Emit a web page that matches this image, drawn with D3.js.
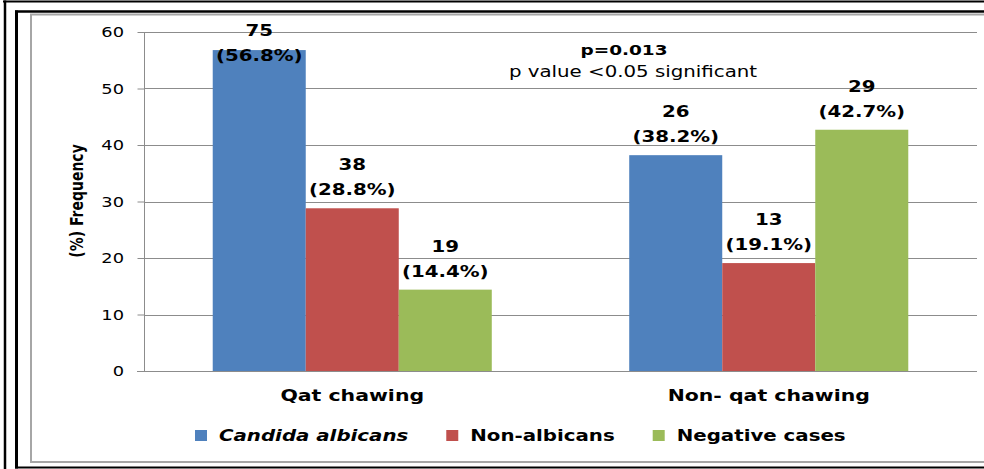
<!DOCTYPE html>
<html>
<head>
<meta charset="utf-8">
<script src="https://cdn.jsdelivr.net/npm/d3@7"></script>
<style>
  html, body { margin: 0; padding: 0; background: #fff; }
  svg { display: block; }
  text { font-family: "DejaVu Sans", sans-serif; fill: #000; }
</style>
</head>
<body>
<svg id="chart" width="984" height="469"></svg>
<script>
// ---- data ----
const categories = ["Qat chawing", "Non- qat chawing"];
const seriesNames = ["Candida albicans", "Non-albicans", "Negative cases"];
const seriesColors = ["#4F81BD", "#C0504D", "#9BBB59"];
const percentValues = [
  [56.8, 28.8, 14.4],   // Qat chawing
  [38.2, 19.1, 42.7]    // Non- qat chawing
];
const countValues = [
  [75, 38, 19],
  [26, 13, 29]
];
const yTicks = [0, 10, 20, 30, 40, 50, 60];
const yTitle = "(%) Frequency";
const noteLines = ["p=0.013", "p value <0.05 significant"];

// ---- layout ----
const W = 984, H = 469;
const SX = 1.32; // horizontal text stretch of the original picture
const plot = { left: 144, right: 977, top: 32, bottom: 371 };
const svg = d3.select("#chart");

// frames
const frame = svg.append("g");
frame.append("line").attr("x1", 3).attr("x2", W).attr("y1", 1.5).attr("y2", 1.5).attr("stroke", "#000").attr("stroke-width", 2);
frame.append("line").attr("x1", 5).attr("x2", 5).attr("y1", 0.5).attr("y2", H).attr("stroke", "#000").attr("stroke-width", 2.5);
frame.append("line").attr("x1", 15).attr("x2", W).attr("y1", 11.5).attr("y2", 11.5).attr("stroke", "#000").attr("stroke-width", 2.5);
frame.append("line").attr("x1", 16.5).attr("x2", 16.5).attr("y1", 10.5).attr("y2", 468.5).attr("stroke", "#000").attr("stroke-width", 3);
frame.append("line").attr("x1", 15).attr("x2", W).attr("y1", 467.5).attr("y2", 467.5).attr("stroke", "#000").attr("stroke-width", 2);
frame.append("path").attr("d", `M${W + 5},14.5 H31 V462 H${W + 5}`).attr("fill", "none").attr("stroke", "#a6a6a6").attr("stroke-width", 2);

// scales
const x0 = d3.scaleBand().domain(categories).range([plot.left, plot.right]).paddingInner(0.33).paddingOuter(0.165);
const x1 = d3.scaleBand().domain(seriesNames).range([0, x0.bandwidth()]);
const y = d3.scaleLinear().domain([0, 60]).range([plot.bottom, plot.top]);

// gridlines
svg.append("g").selectAll("line").data(yTicks.filter(d => d > 0)).join("line")
  .attr("x1", plot.left).attr("x2", plot.right)
  .attr("y1", d => Math.round(y(d)) + 0.5).attr("y2", d => Math.round(y(d)) + 0.5)
  .attr("stroke", "#8c8c8c").attr("stroke-width", 1);

// bars
const groups = svg.append("g").selectAll("g").data(categories).join("g")
  .attr("transform", c => `translate(${x0(c)},0)`);
groups.selectAll("rect").data((c, i) => percentValues[i].map((v, j) => ({ v, j, n: countValues[i][j] }))).join("rect")
  .attr("x", d => x1(seriesNames[d.j]))
  .attr("width", x1.bandwidth())
  .attr("y", d => y(d.v))
  .attr("height", d => y(0) - y(d.v))
  .attr("fill", d => seriesColors[d.j]);

// axes
const yAxis = d3.axisLeft(y).tickValues(yTicks).tickSize(7).tickPadding(12).tickFormat(d3.format("d"));
const yg = svg.append("g").attr("transform", `translate(${plot.left + 0.5},0)`).call(yAxis);
yg.select(".domain").attr("stroke", "#8c8c8c").attr("d", `M0,${plot.top}V${plot.bottom}`);
yg.selectAll(".tick line").attr("stroke", "#8c8c8c");
yg.selectAll(".tick text").remove();
// stretched tick labels
svg.append("g").selectAll("g").data(yTicks).join("g")
  .attr("transform", d => `translate(${plot.left - 20},${y(d) + 5}) scale(${SX},1)`)
  .append("text").attr("text-anchor", "end").attr("font-size", 13.5).attr("fill", "#222").text(d => d);

svg.append("line").attr("x1", plot.left - 7).attr("x2", plot.right)
  .attr("y1", plot.bottom + 0.5).attr("y2", plot.bottom + 0.5)
  .attr("stroke", "#8c8c8c").attr("stroke-width", 1);

// category labels
svg.append("g").selectAll("g").data(categories).join("g")
  .attr("transform", c => `translate(${x0(c) + x0.bandwidth() / 2},401) scale(${SX},1)`)
  .append("text").attr("text-anchor", "middle").attr("font-size", 15.5).attr("font-weight", "bold").text(c => c);

// y title
svg.append("g").attr("transform", `translate(83,201) scale(${SX},1) rotate(-90)`)
  .append("text").attr("text-anchor", "middle").attr("font-size", 14).attr("font-weight", "bold").text(yTitle);

// bar labels
const labelData = [];
categories.forEach((c, i) => percentValues[i].forEach((v, j) => labelData.push({ c, j, v, n: countValues[i][j] })));
const lbl = svg.append("g").selectAll("g").data(labelData).join("g")
  .attr("transform", d => {
    const cx = x0(d.c) + x1(seriesNames[d.j]) + x1.bandwidth() / 2;
    const base = Math.max(y(d.v) - 38, y(60) + 4);
    return `translate(${cx},${base}) scale(${SX},1)`;
  });
lbl.append("text").attr("text-anchor", "middle").attr("font-size", 15).attr("font-weight", "bold").text(d => d.n);
lbl.append("text").attr("text-anchor", "middle").attr("font-size", 15).attr("font-weight", "bold").attr("y", 25)
  .text(d => `(${d.v.toFixed(1)}%)`);

// note
svg.append("g").attr("transform", `translate(624,55) scale(${SX},1)`)
  .append("text").attr("text-anchor", "middle").attr("font-size", 14).attr("font-weight", "bold").text(noteLines[0]);
svg.append("g").attr("transform", `translate(633,77) scale(${SX},1)`)
  .append("text").attr("text-anchor", "middle").attr("font-size", 15).attr("fill", "#111").text(noteLines[1]);

// legend
const legend = svg.append("g");
let lx = 195;
seriesNames.forEach((name, j) => {
  legend.append("rect").attr("x", lx).attr("y", 430).attr("width", 12).attr("height", 11).attr("fill", seriesColors[j]);
  const g = legend.append("g").attr("transform", `translate(${lx + 24},441) scale(${SX},1)`);
  const t = g.append("text").attr("font-size", 15).attr("font-weight", "bold")
    .attr("font-style", j === 0 ? "italic" : "normal").text(name);
  const w = t.node().getComputedTextLength() * SX;
  lx = lx + 24 + w + 38;
});
</script>
</body>
</html>
